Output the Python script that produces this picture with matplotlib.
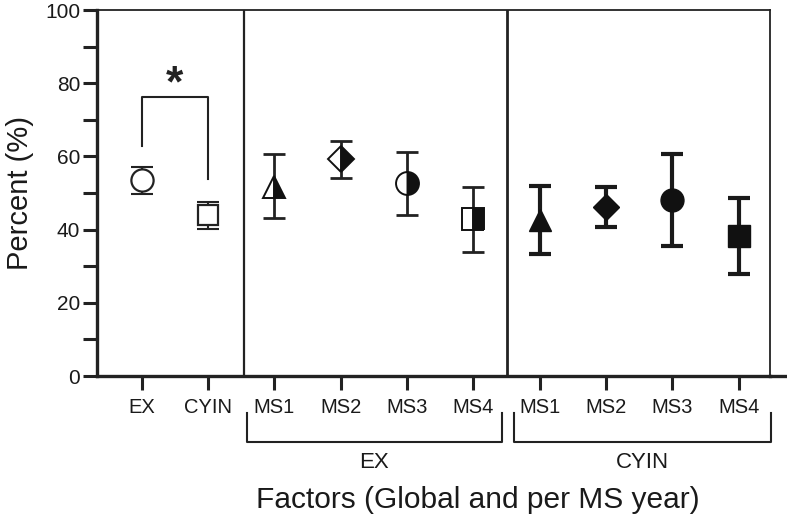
import matplotlib.pyplot as plt
import numpy as np
from matplotlib.lines import Line2D

plt.rcParams['font.family'] = ['Liberation Sans', 'DejaVu Sans']

# global comparison
glob_labels = ['EX', 'CYIN']
glob_mean = [53.5, 44.0]
glob_hi = [57.1, 47.5]
glob_lo = [49.7, 40.2]

# per MS year
ms_labels = ['MS1', 'MS2', 'MS3', 'MS4']
ex_mean = [51.6, 59.3, 52.7, 42.9]
ex_hi = [60.7, 64.2, 61.2, 51.7]
ex_lo = [43.2, 54.1, 44.0, 33.9]
cy_mean = [42.5, 46.2, 48.1, 38.3]
cy_hi = [51.9, 51.7, 60.7, 48.6]
cy_lo = [33.3, 40.8, 35.5, 27.9]

markers = ['^', 'D', 'o', 's']
msizes = [16.5, 13.5, 16.5, 16.5]

fig = plt.figure(figsize=(7.87, 5.16), dpi=100)
ax = fig.add_axes([0.1233, 0.2713, 0.8551, 0.7093])

x_glob = np.arange(1, 3)
x_ex = np.arange(3, 7)
x_cy = np.arange(7, 11)


def errs(m, lo, hi):
    m = np.array(m)
    return [m - np.array(lo), np.array(hi) - m]


# global
ax.errorbar(x_glob, glob_mean, yerr=errs(glob_mean, glob_lo, glob_hi), fmt='none',
            ecolor='#222222', elinewidth=1.5, capsize=8, capthick=1.5, zorder=2)
ax.plot(x_glob[0], glob_mean[0], marker='o', ms=16, mfc='white', mec='#222222', mew=1.6, zorder=3)
ax.plot(x_glob[1], glob_mean[1], marker='s', ms=15, mfc='white', mec='#222222', mew=1.6, zorder=3)

# EX per year (half filled)
ax.errorbar(x_ex, ex_mean, yerr=errs(ex_mean, ex_lo, ex_hi), fmt='none',
            ecolor='#222222', elinewidth=2.0, capsize=8, capthick=2.0, zorder=2)
for xi, yi, mk, s in zip(x_ex, ex_mean, markers, msizes):
    ax.plot(xi, yi, marker=mk, ms=s, fillstyle='right', mfc='#111111',
            markerfacecoloralt='white', mec='#111111', mew=1.4, zorder=3)

# CYIN per year (filled)
ax.errorbar(x_cy, cy_mean, yerr=errs(cy_mean, cy_lo, cy_hi), fmt='none',
            ecolor='#1a1a1a', elinewidth=3.0, capsize=8, capthick=3.0, zorder=2)
for xi, yi, mk, s in zip(x_cy, cy_mean, markers, msizes):
    ax.plot(xi, yi, marker=mk, ms=s, mfc='#111111', mec='#111111', mew=1, zorder=3)

# significance bracket
ax.plot([1, 1, 2, 2], [62.8, 76.2, 76.2, 53.8], color='#222222', lw=1.5)
ax.text(1.5, 79.5, '*', ha='center', va='center', fontsize=32, fontweight='bold',
        color='#222222')

# dividers
ax.axvline(2.54, color='#222222', lw=1.6)
ax.axvline(6.5, color='#222222', lw=2.0)

ax.set_xlim(0.33, 10.47)
ax.set_ylim(0, 100)
ax.set_yticks(np.arange(0, 101, 20))
ax.set_yticks(np.arange(10, 100, 20), minor=True)
ax.set_xticks(np.arange(1, 11))
ax.set_xticklabels(glob_labels + ms_labels + ms_labels)
ax.tick_params(axis='both', which='both', direction='out', length=10, width=2.2,
               color='#222222', labelcolor='#1a1a1a')
ax.tick_params(axis='y', pad=2, labelsize=15)
ax.tick_params(axis='x', pad=6, labelsize=14.5)

ax.spines['left'].set_linewidth(2.4)
ax.spines['bottom'].set_linewidth(2.4)
ax.spines['top'].set_linewidth(1.3)
ax.spines['right'].set_linewidth(1.3)
for sp in ax.spines.values():
    sp.set_color('#222222')
ax.add_line(Line2D([1, 1.03], [0, 0], transform=ax.transAxes, color='#222222',
                   lw=2.4, clip_on=False))

# group brackets below axis
tr = ax.get_xaxis_transform()
for x0, x1, name in [(2.59, 6.43, 'EX'), (6.62, 10.49, 'CYIN')]:
    ax.plot([x0, x0, x1, x1], [-0.101, -0.18, -0.18, -0.101], transform=tr,
            color='#222222', lw=1.5, clip_on=False)
    ax.text((x0 + x1) / 2, -0.235, name, transform=tr, ha='center', va='center',
            fontsize=16, color='#1a1a1a')

ax.set_ylabel('Percent (%)', fontsize=21, color='#1a1a1a', labelpad=8)
ax.text(6.06, -0.338, 'Factors (Global and per MS year)', transform=tr, ha='center',
        va='center', fontsize=21.5, color='#1a1a1a')

fig.savefig('out.png', dpi=100)
